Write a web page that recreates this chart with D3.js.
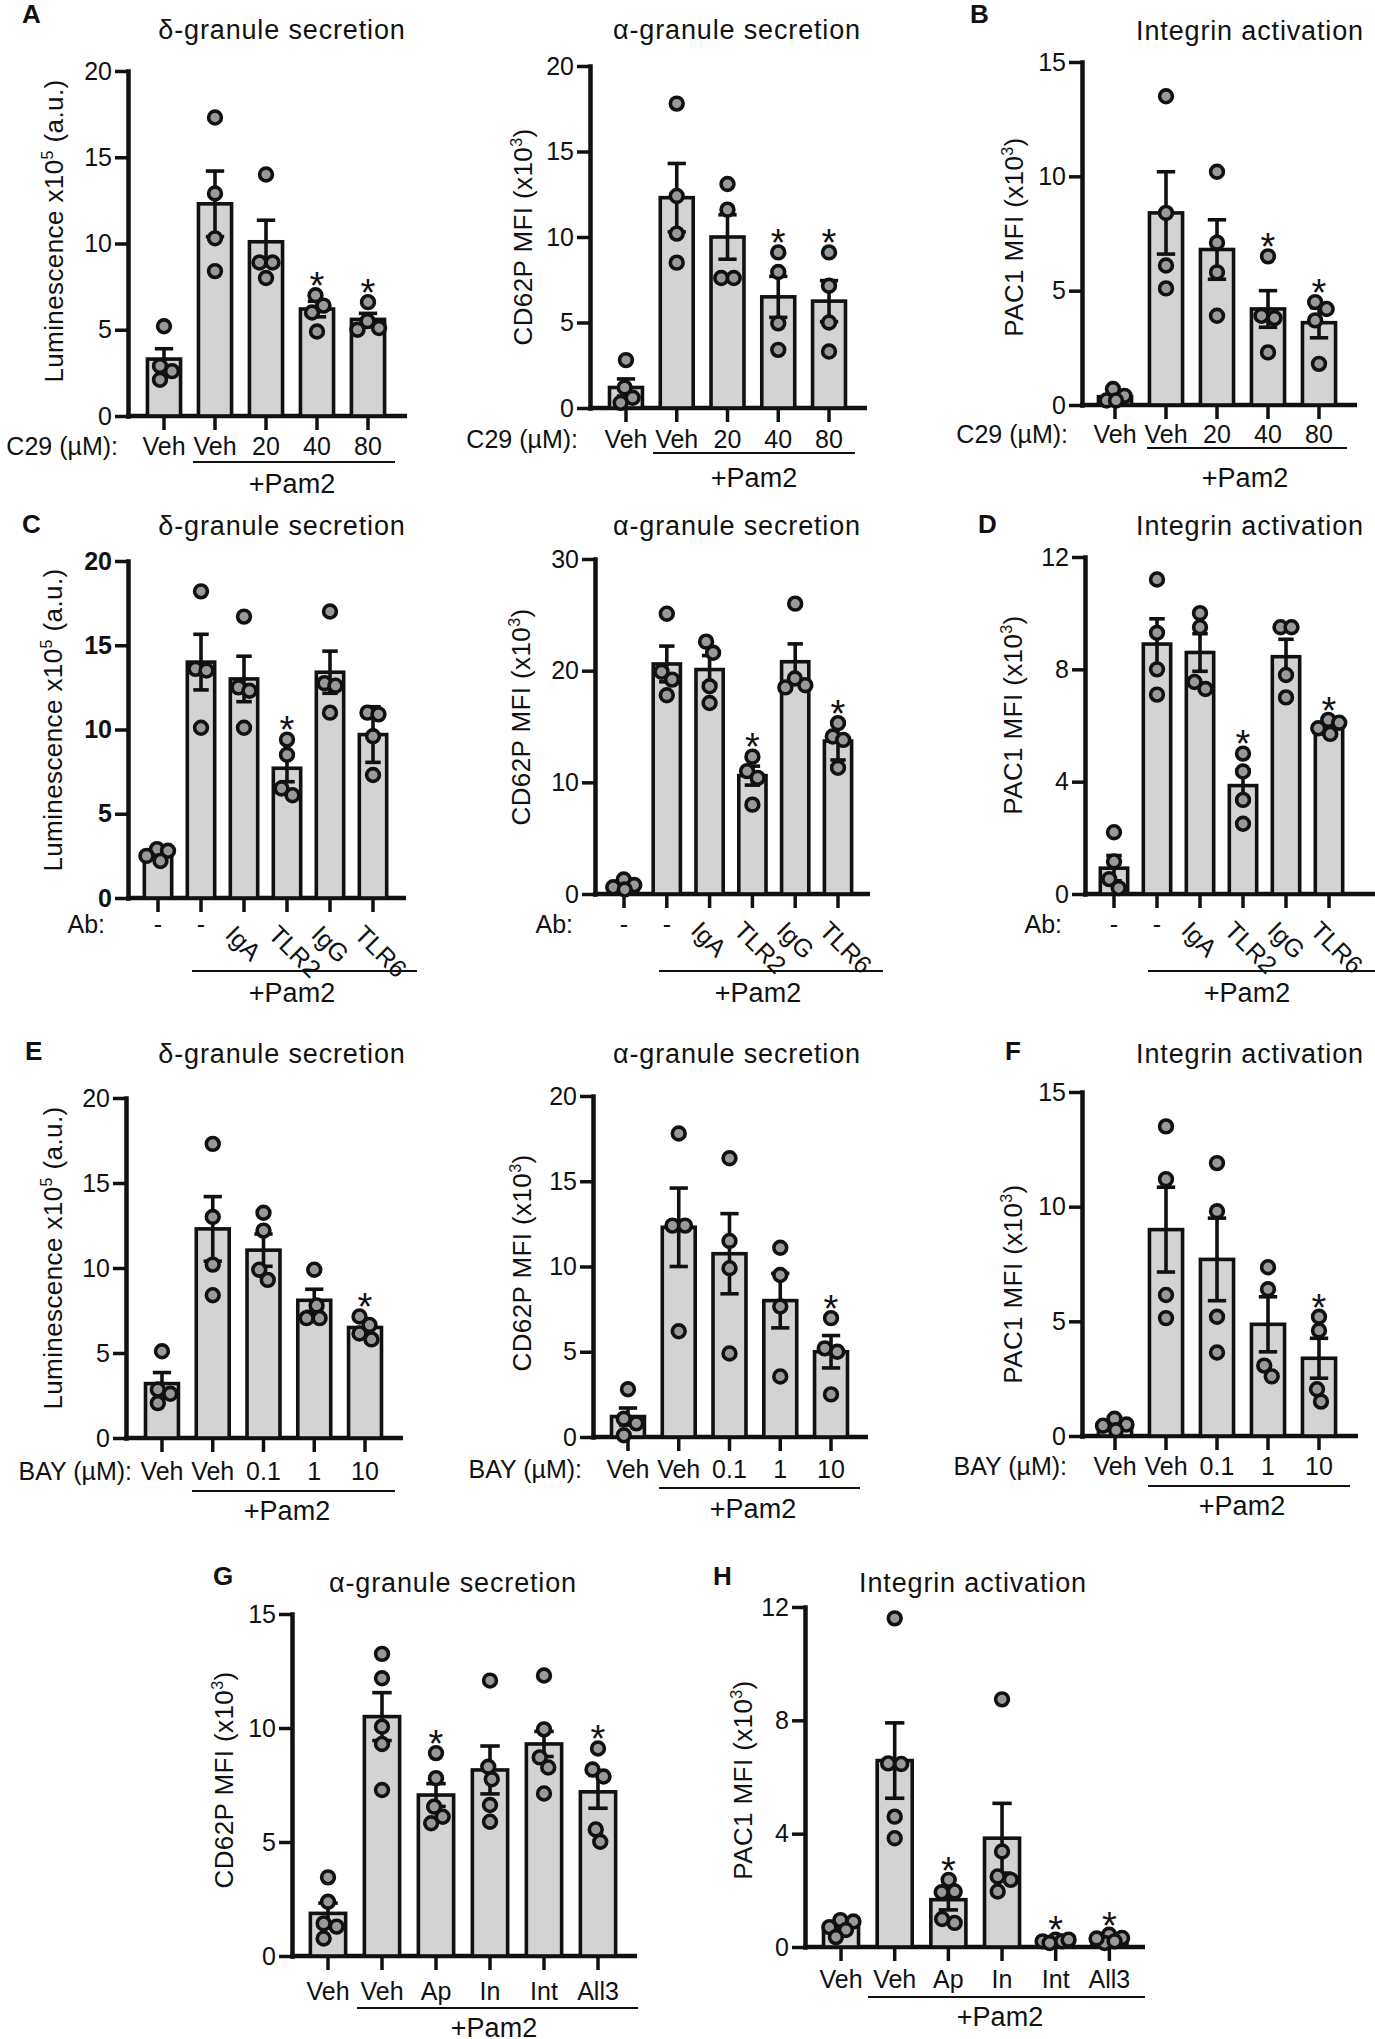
<!DOCTYPE html>
<html>
<head>
<meta charset="utf-8">
<script src="https://cdn.jsdelivr.net/npm/d3@7"></script>
<style>
  body { margin: 0; background: #fff; }
  svg text { font-family: "Liberation Sans", Arial, Helvetica, sans-serif; fill: #111; }
</style>
</head>
<body>
<svg id="fig" width="1375" height="2039"></svg>
<script>
// ---- categories ----
const catC29 = ["Veh", "Veh", "20", "40", "80"];
const catAb = ["-", "-", "IgA", "TLR2", "IgG", "TLR6"];
const catBay = ["Veh", "Veh", "0.1", "1", "10"];
const catInh = ["Veh", "Veh", "Ap", "In", "Int", "All3"];

// ---- axis labels (text, superscript, rest) ----
const labLum = ["Luminescence x10", "5", " (a.u.)"];
const labCd = ["CD62P MFI (x10", "3", ")"];
const labPac = ["PAC1 MFI (x10", "3", ")"];

// ---- A: C29 ----
const aDeltaMean = [3.3, 12.3, 10.1, 6.2, 5.6];
const aDeltaSem = [0.6, 1.9, 1.25, 0.45, 0.35];
const aDeltaPts = [[5.2, 2.9, 2.6, 2.1], [17.3, 12.9, 10.3, 8.4], [14.0, 8.9, 8.9, 8.0], [7.0, 6.4, 6.0, 4.9], [6.6, 5.5, 5.1, 5.0]];
const aDeltaStar = [0, 0, 0, 1, 1];

const aAlphaMean = [1.2, 12.3, 10.0, 6.5, 6.25];
const aAlphaSem = [0.5, 2.0, 1.3, 1.2, 1.2];
const aAlphaPts = [[2.8, 1.2, 0.6, 0.3], [17.8, 12.4, 10.2, 8.5], [13.1, 11.6, 7.6, 7.6], [9.1, 7.95, 4.95, 3.4], [9.1, 7.15, 5.0, 3.3]];
const aAlphaStar = [0, 0, 0, 1, 1];

const bIntMean = [0.36, 8.4, 6.8, 4.2, 3.6];
const bIntSem = [0.15, 1.8, 1.3, 0.8, 0.66];
const bIntPts = [[0.7, 0.4, 0.2, 0.2], [13.5, 8.4, 6.1, 5.1], [10.2, 7.1, 5.8, 3.9], [6.5, 3.9, 3.8, 2.3], [4.5, 4.2, 3.7, 1.8]];
const bIntStar = [0, 0, 0, 1, 1];

// ---- C/D: antibodies ----
const cDeltaMean = [2.6, 14.0, 13.0, 7.7, 13.4, 9.7];
const cDeltaSem = [0.2, 1.65, 1.35, 0.8, 1.25, 1.65];
const cDeltaPts = [[2.9, 2.8, 2.5, 2.2], [18.2, 13.6, 13.5, 10.1], [16.7, 12.5, 12.3, 10.1], [9.4, 8.5, 6.5, 6.1], [17.0, 12.75, 12.6, 11.0], [11.0, 10.9, 9.6, 7.3]];
const cDeltaStar = [0, 0, 0, 1, 0, 0];

const cAlphaMean = [0.78, 20.6, 20.1, 10.6, 20.8, 13.7];
const cAlphaSem = [0.2, 1.6, 1.25, 0.85, 1.6, 1.7];
const cAlphaPts = [[1.3, 0.8, 0.6, 0.4], [25.1, 19.9, 19.2, 17.8], [22.6, 21.6, 18.6, 17.1], [12.3, 11.0, 10.4, 8.0], [26.0, 19.3, 18.7, 18.5], [15.3, 14.1, 13.8, 11.3]];
const cAlphaStar = [0, 0, 0, 1, 0, 1];

const dIntMean = [0.92, 8.9, 8.6, 3.86, 8.45, 5.9];
const dIntSem = [0.45, 0.9, 0.67, 0.56, 0.62, 0.2];
const dIntPts = [[2.2, 1.16, 0.53, 0.21], [11.2, 9.3, 8.0, 7.1], [10.0, 9.5, 7.55, 7.3], [5.0, 4.36, 3.35, 2.5], [9.5, 9.5, 7.8, 7.0], [6.2, 6.1, 5.9, 5.7]];
const dIntStar = [0, 0, 0, 1, 0, 1];

// ---- E/F: BAY ----
const eDeltaMean = [3.2, 12.3, 11.05, 8.1, 6.5];
const eDeltaSem = [0.65, 1.9, 0.95, 0.65, 0.35];
const eDeltaPts = [[5.1, 2.85, 2.6, 2.05], [17.3, 13.0, 10.2, 8.4], [13.25, 12.2, 9.9, 9.3], [9.9, 7.8, 7.05, 7.05], [7.15, 6.65, 6.15, 5.8]];
const eDeltaStar = [0, 0, 0, 0, 1];

const eAlphaMean = [1.2, 12.3, 10.75, 8.0, 5.0];
const eAlphaSem = [0.5, 2.3, 2.35, 1.6, 0.95];
const eAlphaPts = [[2.8, 1.07, 0.8, 0.1], [17.8, 12.4, 12.4, 6.2], [16.35, 11.5, 9.9, 4.9], [11.1, 9.5, 7.65, 3.55], [6.97, 5.2, 5.0, 2.5]];
const eAlphaStar = [0, 0, 0, 0, 1];

const fIntMean = [0.48, 9.0, 7.7, 4.87, 3.39];
const fIntSem = [0.12, 1.85, 1.8, 1.2, 0.87];
const fIntPts = [[0.75, 0.5, 0.45, 0.25], [13.5, 11.2, 6.15, 5.14], [11.9, 9.8, 5.2, 3.64], [7.36, 6.4, 3.07, 2.6], [5.2, 4.6, 2.04, 1.5]];
const fIntStar = [0, 0, 0, 0, 1];

// ---- G/H: inhibitors ----
const gAlphaMean = [1.87, 10.5, 7.06, 8.16, 9.3, 7.2];
const gAlphaSem = [0.45, 1.05, 0.5, 1.05, 0.55, 0.72];
const gAlphaPts = [[3.45, 2.38, 1.43, 1.29, 0.77], [13.25, 12.18, 10.06, 9.3, 7.28], [8.9, 7.8, 6.55, 6.11, 5.82], [12.08, 8.3, 7.75, 6.62, 5.89], [12.3, 9.94, 8.71, 8.27, 7.13], [9.1, 8.18, 7.87, 5.55, 5.01]];
const gAlphaStar = [0, 0, 1, 0, 0, 1];

const hIntMean = [0.7, 6.58, 1.67, 3.84, 0.2, 0.26];
const hIntSem = [0.12, 1.33, 0.36, 1.23, 0.03, 0.05];
const hIntPts = [[0.95, 0.9, 0.7, 0.6, 0.35], [11.6, 6.48, 6.46, 4.6, 3.84], [2.37, 1.96, 1.93, 0.99, 0.85], [8.74, 3.37, 2.49, 2.37, 1.96], [0.26, 0.2, 0.14, 0.2, 0.26], [0.43, 0.32, 0.14, 0.2, 0.3]];
const hIntStar = [0, 0, 1, 0, 1, 1];

// panel list: data + where each panel sits on the page
const panels = [
  { cats: catC29, mean: aDeltaMean, sem: aDeltaSem, pts: aDeltaPts, star: aDeltaStar, yMax: 20, yStep: 5, ylab: labLum,
    title: "δ-granule secretion", letter: "A", prefix: "C29 (µM):",
    L: { letter: [22, 23], title: [282, 39], ax: 128, axEnd: 407, y0: 416, yTop: 71, band: [138.5, 393.5],
         ylab: [63, 231], prefixX: 118, catY: 455, ul: [193, 395, 462], pam: [292, 493] } },
  { cats: catC29, mean: aAlphaMean, sem: aAlphaSem, pts: aAlphaPts, star: aAlphaStar, yMax: 20, yStep: 5, ylab: labCd,
    title: "α-granule secretion", prefix: "C29 (µM):",
    L: { title: [737, 39], ax: 590, axEnd: 867, y0: 408, yTop: 66, band: [600.6, 854.4],
         ylab: [532, 237], prefixX: 578, catY: 448, ul: [653, 855, 453], pam: [754, 487] } },
  { cats: catC29, mean: bIntMean, sem: bIntSem, pts: bIntPts, star: bIntStar, yMax: 15, yStep: 5, ylab: labPac,
    title: "Integrin activation", letter: "B", prefix: "C29 (µM):",
    L: { letter: [970, 23], title: [1250, 40], ax: 1082, axEnd: 1357, y0: 405, yTop: 62, band: [1089.5, 1344.5],
         ylab: [1023, 237], prefixX: 1068, catY: 443, ul: [1147, 1347, 448], pam: [1245, 487] } },

  { cats: catAb, mean: cDeltaMean, sem: cDeltaSem, pts: cDeltaPts, star: cDeltaStar, yMax: 20, yStep: 5, ylab: labLum,
    title: "δ-granule secretion", letter: "C", prefix: "Ab:", rotate: true, tickBold: true,
    L: { letter: [22, 533], title: [282, 535], ax: 128, axEnd: 406, y0: 898, yTop: 561, band: [136.5, 394.5],
         ylab: [62, 720], prefixX: 105, catY: 933, ul: [192, 417, 971], pam: [292, 1002] } },
  { cats: catAb, mean: cAlphaMean, sem: cAlphaSem, pts: cAlphaPts, star: cAlphaStar, yMax: 30, yStep: 10, ylab: labCd,
    title: "α-granule secretion", prefix: "Ab:", rotate: true,
    L: { title: [737, 535], ax: 595, axEnd: 870, y0: 894, yTop: 559, band: [602.6, 859.4],
         ylab: [530, 717], prefixX: 573, catY: 933, ul: [659, 883, 971], pam: [758, 1002] } },
  { cats: catAb, mean: dIntMean, sem: dIntSem, pts: dIntPts, star: dIntStar, yMax: 12, yStep: 4, ylab: labPac,
    title: "Integrin activation", letter: "D", prefix: "Ab:", rotate: true,
    L: { letter: [978, 533], title: [1250, 535], ax: 1085, axEnd: 1375, y0: 894, yTop: 557, band: [1092.5, 1350.5],
         ylab: [1022, 715], prefixX: 1062, catY: 933, ul: [1148, 1375, 971], pam: [1247, 1002] } },

  { cats: catBay, mean: eDeltaMean, sem: eDeltaSem, pts: eDeltaPts, star: eDeltaStar, yMax: 20, yStep: 5, ylab: labLum,
    title: "δ-granule secretion", letter: "E", prefix: "BAY (µM):",
    L: { letter: [25, 1060], title: [282, 1063], ax: 126, axEnd: 403, y0: 1438, yTop: 1098, band: [136.6, 390.4],
         ylab: [62, 1258], prefixX: 132, catY: 1480, ul: [192, 395, 1491], pam: [287, 1520] } },
  { cats: catBay, mean: eAlphaMean, sem: eAlphaSem, pts: eAlphaPts, star: eAlphaStar, yMax: 20, yStep: 5, ylab: labCd,
    title: "α-granule secretion", prefix: "BAY (µM):",
    L: { title: [737, 1063], ax: 593, axEnd: 868, y0: 1437, yTop: 1096, band: [602.6, 856.4],
         ylab: [531, 1263], prefixX: 582, catY: 1478, ul: [659, 860, 1488], pam: [753, 1518] } },
  { cats: catBay, mean: fIntMean, sem: fIntSem, pts: fIntPts, star: fIntStar, yMax: 15, yStep: 5, ylab: labPac,
    title: "Integrin activation", letter: "F", prefix: "BAY (µM):",
    L: { letter: [1005, 1060], title: [1250, 1063], ax: 1082, axEnd: 1358, y0: 1436, yTop: 1092, band: [1089.5, 1344.5],
         ylab: [1022, 1284], prefixX: 1067, catY: 1475, ul: [1148, 1350, 1486], pam: [1242, 1515] } },

  { cats: catInh, mean: gAlphaMean, sem: gAlphaSem, pts: gAlphaPts, star: gAlphaStar, yMax: 15, yStep: 5, ylab: labCd,
    title: "α-granule secretion", letter: "G",
    L: { letter: [213, 1585], title: [453, 1592], ax: 292, axEnd: 637, y0: 1956, yTop: 1614, band: [301, 625],
         ylab: [233, 1780], catY: 2000, ul: [357, 638, 2008], pam: [494, 2037] } },
  { cats: catInh, mean: hIntMean, sem: hIntSem, pts: hIntPts, star: hIntStar, yMax: 12, yStep: 4, ylab: labPac,
    title: "Integrin activation", letter: "H",
    L: { letter: [713, 1585], title: [973, 1592], ax: 805, axEnd: 1145, y0: 1947, yTop: 1607, band: [814.2, 1136.2],
         ylab: [752, 1780], catY: 1988, ul: [868, 1145, 1997], pam: [1000, 2026] } }
];

const svg = d3.select("#fig");
const INK = "#111";
const BAR_FILL = "#d3d3d3";
const DOT_FILL = "#999";
const R = 6.4, DOT_W = 3.6;

// simple beeswarm: points that overlap vertically get pushed sideways, then each clump is centred
function swarm(ys, D, lim) {
  const order = d3.range(ys.length).sort((a, b) => ys[a] - ys[b]);
  const dx = ys.map(() => 0);
  let clump = [];
  function flush() {
    const placed = [];
    clump.forEach(i => {
      let best = 0, bestD = -1;
      for (let k = 0; k <= lim * 4; k++) {
        const c = (k % 2 ? 1 : -1) * Math.ceil(k / 2) * 0.5;
        const dmin = placed.length ? d3.min(placed, j => Math.hypot(c - dx[j], ys[i] - ys[j])) : Infinity;
        if (dmin >= D) { best = c; bestD = dmin; break; }
        if (dmin > bestD) { bestD = dmin; best = c; }
      }
      dx[i] = best;
      placed.push(i);
    });
    const m = d3.mean(clump, i => dx[i]);
    clump.forEach(i => { dx[i] -= m; });
    clump = [];
  }
  order.forEach(i => {
    if (clump.length && ys[i] - ys[clump[clump.length - 1]] >= D) flush();
    clump.push(i);
  });
  if (clump.length) flush();
  return dx;
}

function drawPanel(p) {
  const L = p.L;
  const g = svg.append("g");

  const x = d3.scaleBand().domain(d3.range(p.cats.length)).range(L.band).padding(0);
  const y = d3.scaleLinear().domain([0, p.yMax]).range([L.y0, L.yTop]);
  const step = x.step();
  const cx = i => x(i) + step / 2;
  const barW = step * 0.72 - 3.6;
  const cap = step * 0.36;

  // y axis
  const yAxis = d3.axisLeft(y)
    .tickValues(d3.range(0, p.yMax + 1e-6, p.yStep))
    .tickSize(13).tickPadding(3).tickSizeOuter(0);
  const ya = g.append("g").attr("transform", `translate(${L.ax},0)`).call(yAxis);
  ya.select(".domain").attr("stroke", INK).attr("stroke-width", 4.5).attr("stroke-linecap", "square");
  ya.selectAll(".tick line").attr("stroke", INK).attr("stroke-width", 3.5);
  ya.selectAll(".tick text")
    .attr("font-size", 25)
    .attr("font-family", "Liberation Sans, Arial, sans-serif")
    .attr("font-weight", p.tickBold ? "bold" : "normal")
    .attr("fill", INK);

  // x axis: line by hand, ticks from d3
  g.append("line")
    .attr("x1", L.ax - 2).attr("x2", L.axEnd)
    .attr("y1", L.y0).attr("y2", L.y0)
    .attr("stroke", INK).attr("stroke-width", 4.5);
  const xa = g.append("g").attr("transform", `translate(0,${L.y0})`)
    .call(d3.axisBottom(x).tickSize(14).tickSizeOuter(0).tickFormat(() => ""));
  xa.select(".domain").remove();
  xa.selectAll(".tick line").attr("stroke", INK).attr("stroke-width", 3.5);

  // bars
  g.selectAll("rect.bar").data(p.mean).enter().append("rect")
    .attr("class", "bar")
    .attr("x", (d, i) => cx(i) - barW / 2)
    .attr("width", barW)
    .attr("y", d => y(d))
    .attr("height", d => L.y0 - y(d))
    .attr("fill", BAR_FILL)
    .attr("stroke", INK)
    .attr("stroke-width", 3.6);

  // error bars (mean ± SEM)
  p.mean.forEach((m, i) => {
    const s = p.sem[i];
    const lo = Math.max(0, m - s), hi = m + s;
    g.append("line").attr("x1", cx(i)).attr("x2", cx(i)).attr("y1", y(lo)).attr("y2", y(hi))
      .attr("stroke", INK).attr("stroke-width", 3.6);
    [lo, hi].forEach(v => {
      if (v === 0) return;
      g.append("line").attr("x1", cx(i) - cap / 2).attr("x2", cx(i) + cap / 2)
        .attr("y1", y(v)).attr("y2", y(v))
        .attr("stroke", INK).attr("stroke-width", 3.6);
    });
  });

  // individual points
  p.pts.forEach((vals, i) => {
    const ys = vals.map(v => y(v));
    const dx = swarm(ys, 13, step * 0.25);
    g.selectAll(null).data(vals).enter().append("circle")
      .attr("cx", (d, k) => cx(i) + dx[k])
      .attr("cy", d => y(d))
      .attr("r", R)
      .attr("fill", DOT_FILL)
      .attr("stroke", INK)
      .attr("stroke-width", DOT_W);
  });

  // significance stars
  p.star.forEach((s, i) => {
    if (!s) return;
    const topPt = y(d3.max(p.pts[i])) - R - DOT_W / 2;
    const topErr = y(p.mean[i] + p.sem[i]) - 2;
    const top = Math.min(topPt, topErr);
    g.append("text").attr("x", cx(i)).attr("y", top + 12)
      .attr("text-anchor", "middle").attr("font-size", 38).text("*");
  });

  // category labels
  p.cats.forEach((c, i) => {
    if (p.rotate && c !== "-") {
      g.append("text")
        .attr("transform", `translate(${cx(i) - 20},${L.y0 + 38}) rotate(45)`)
        .attr("font-size", 25).text(c);
    } else {
      g.append("text").attr("x", cx(i)).attr("y", L.catY)
        .attr("text-anchor", "middle").attr("font-size", 25).text(c);
    }
  });
  if (p.prefix) {
    g.append("text").attr("x", L.prefixX).attr("y", L.catY)
      .attr("text-anchor", "end").attr("font-size", 25).text(p.prefix);
  }

  // +Pam2 bracket
  g.append("line").attr("x1", L.ul[0]).attr("x2", L.ul[1]).attr("y1", L.ul[2]).attr("y2", L.ul[2])
    .attr("stroke", INK).attr("stroke-width", 2);
  g.append("text").attr("x", L.pam[0]).attr("y", L.pam[1])
    .attr("text-anchor", "middle").attr("font-size", 27).text("+Pam2");

  // y label with superscript
  const yl = g.append("text")
    .attr("transform", `translate(${L.ylab[0]},${L.ylab[1]}) rotate(-90)`)
    .attr("text-anchor", "middle").attr("font-size", 26).attr("letter-spacing", 0.4);
  yl.append("tspan").text(p.ylab[0]);
  yl.append("tspan").attr("font-size", 16).attr("dy", -10).text(p.ylab[1]);
  yl.append("tspan").attr("dy", 10).text(p.ylab[2]);

  // title and panel letter
  g.append("text").attr("x", L.title[0]).attr("y", L.title[1])
    .attr("text-anchor", "middle").attr("font-size", 27).attr("letter-spacing", 0.85)
    .text(p.title);
  if (p.letter) {
    g.append("text").attr("x", L.letter[0]).attr("y", L.letter[1])
      .attr("font-size", 26).attr("font-weight", "bold").text(p.letter);
  }
}

panels.forEach(drawPanel);
</script>
</body>
</html>
